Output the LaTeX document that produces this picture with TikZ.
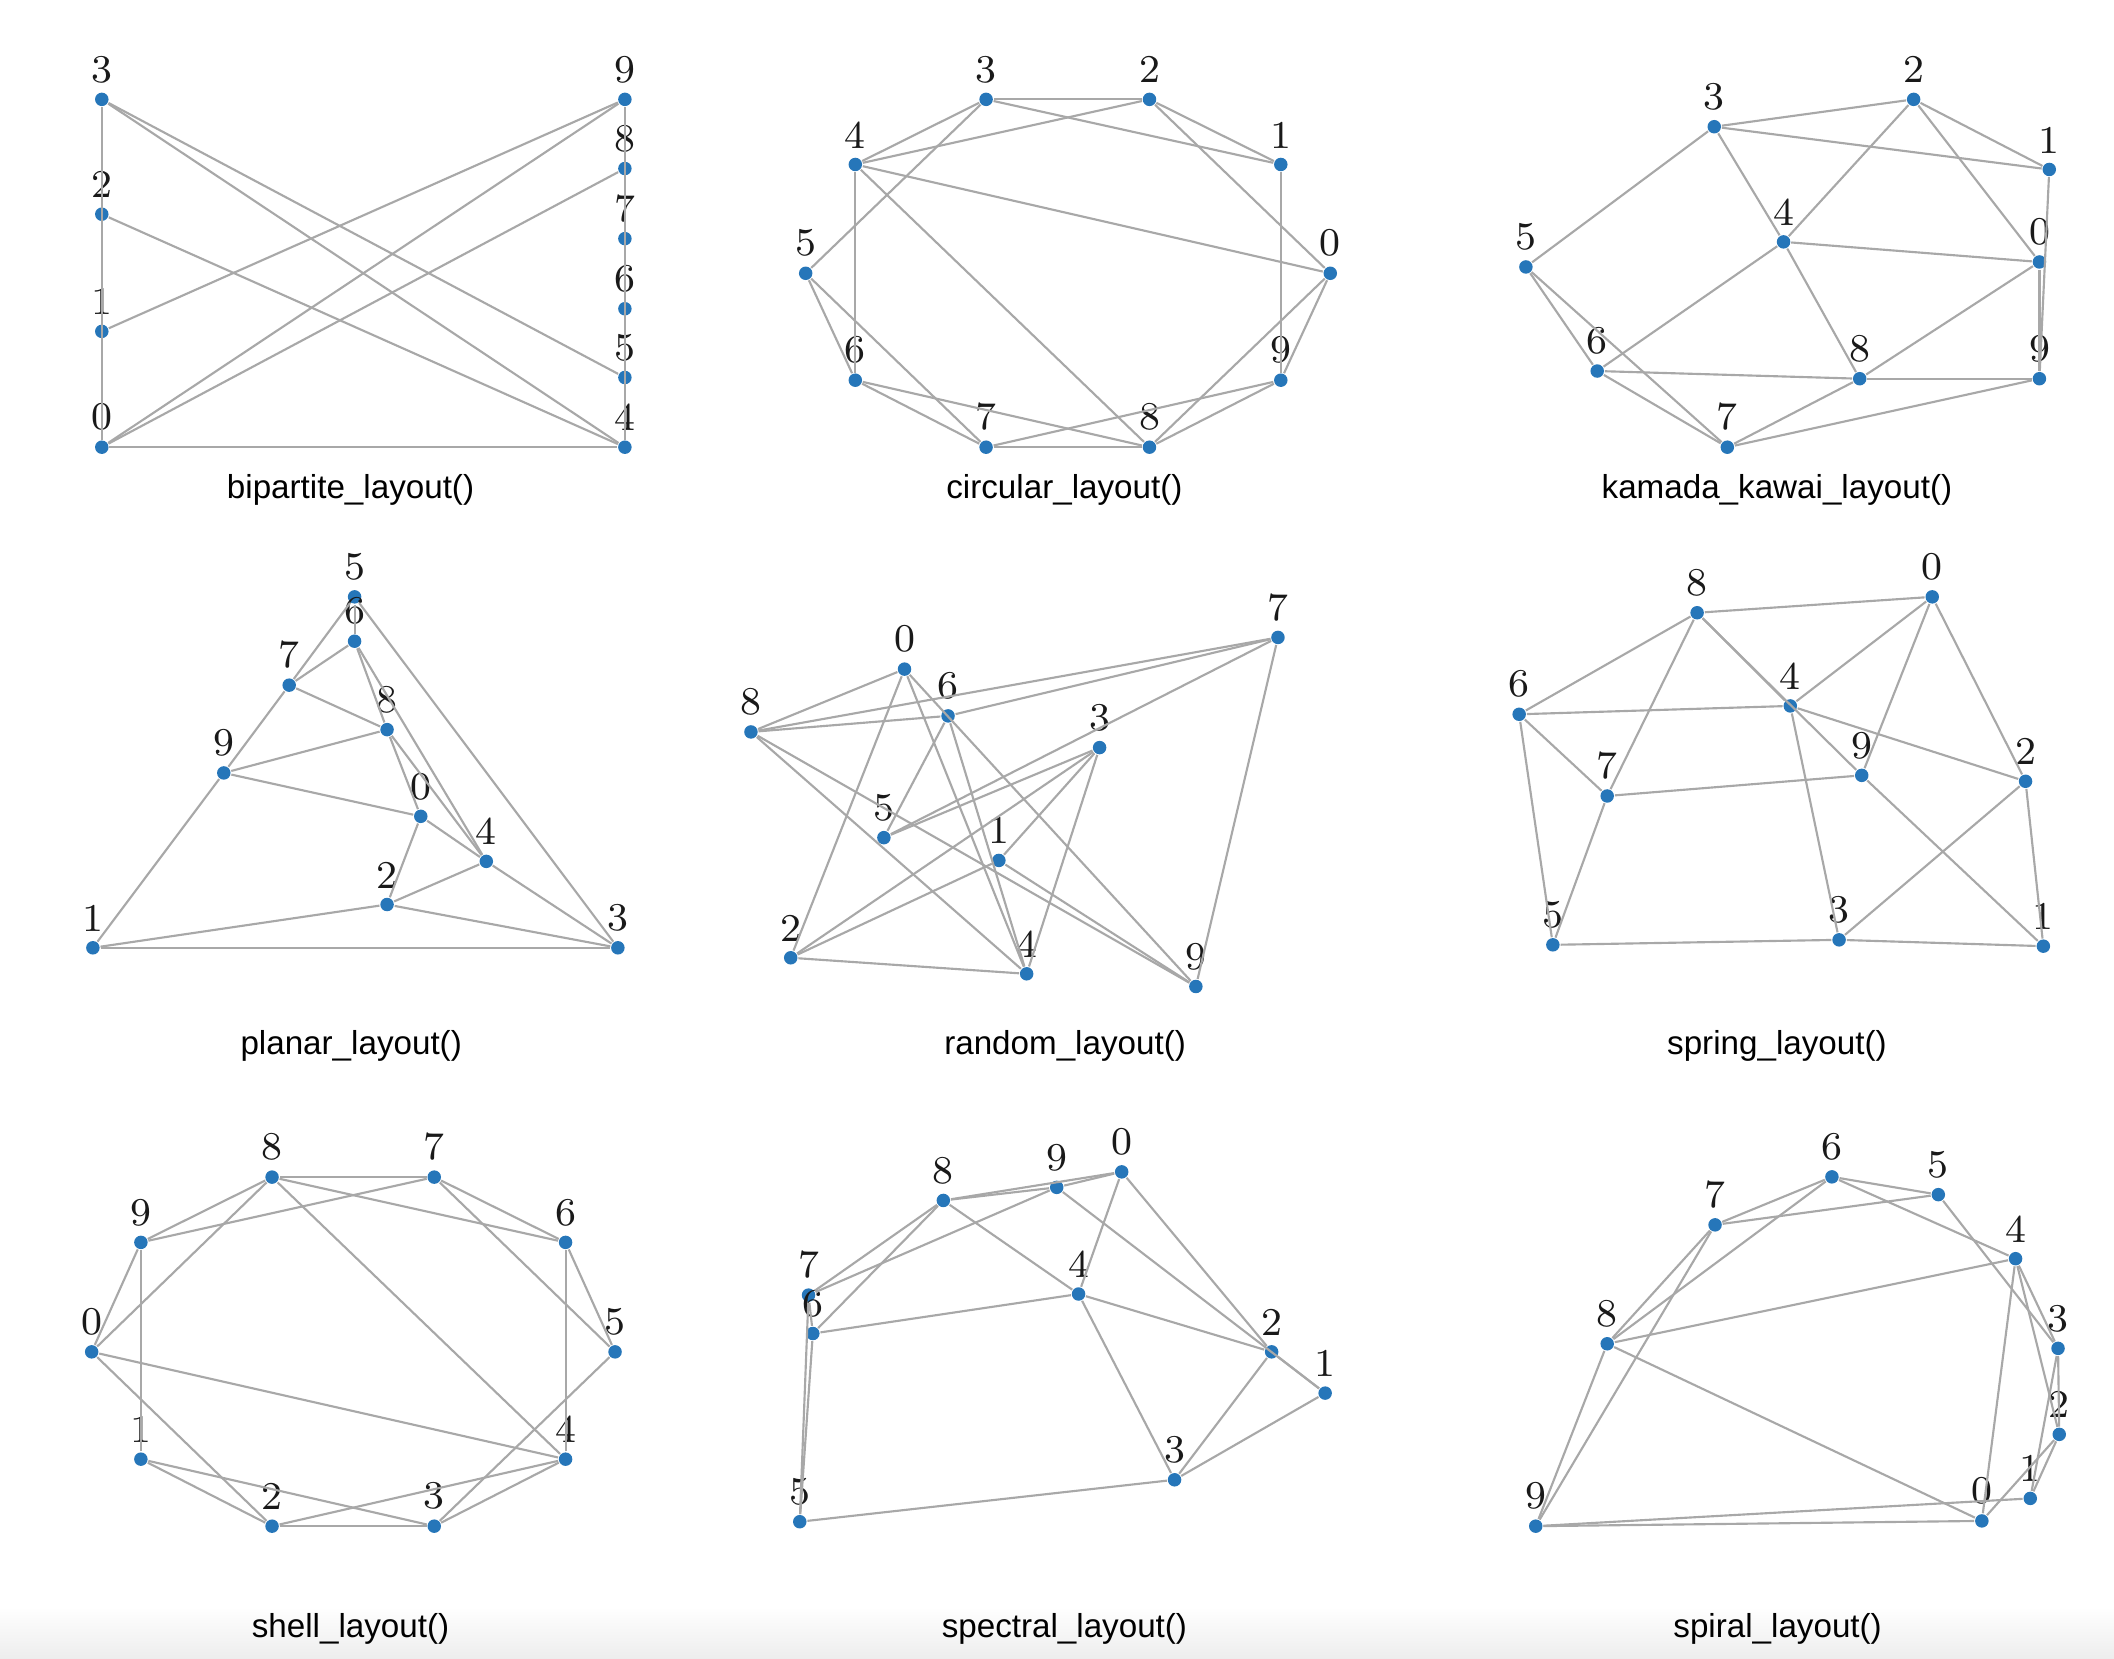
\documentclass[tikz,border=0pt]{standalone}
\usepackage{fontspec}
\newfontfamily\capfont{Liberation Sans}
\definecolor{dotblue}{RGB}{38,118,185}
\definecolor{linkgray}{RGB}{168,168,168}
\newcommand\gedges{0/2,0/4,0/8,0/9,1/2,1/3,1/9,2/3,2/4,3/4,3/5,4/6,4/8,5/6,5/7,6/7,6/8,7/8,7/9,8/9}
\tikzset{
  vtx/.style={circle,fill=dotblue,inner sep=0pt,minimum size=0.1cm,label={[vlab]above:#1}},
  vlab/.style={inner sep=0pt,text=black!90,font=\fontsize{8.3}{9}\selectfont},
  link/.style={draw=linkgray,line width=0.45pt},
  lcap/.style={inner sep=0pt,font=\capfont\fontsize{7}{8}\selectfont}
}
\begin{document}
\begin{tikzpicture}[x=0.01cm,y=-0.01cm,label distance=0.058cm]
  \useasboundingbox (0,0) rectangle (1568,1230);
  \shade[top color=white,bottom color=black!7] (0,1192) rectangle (1568,1230);
  % bipartite
  \foreach \n/\x/\y in {3/75.5/73.7,2/75.5/158.9,1/75.5/245.8,0/75.5/331.7,9/463.5/73.7,
      8/463.5/125,7/463.5/177,6/463.5/229,5/463.5/280,4/463.5/331.7}
    \node[vtx=\n] (bip\n) at (\x,\y) {};
  \foreach \a/\b in \gedges \draw[link] (bip\a) -- (bip\b);
  \node[lcap] (tbip) at (260,363.5) {bipartite\_layout()};
  % circular
  \foreach \n/\x/\y in {3/731.4/73.7,2/852.6/73.7,4/634.4/122,1/950/122,5/597.6/202.7,
      0/986.7/202.7,6/634.4/282,9/950/282,7/731.4/331.7,8/852.6/331.7}
    \node[vtx=\n] (cir\n) at (\x,\y) {};
  \foreach \a/\b in \gedges \draw[link] (cir\a) -- (cir\b);
  \node[lcap] (tcir) at (789.5,363.5) {circular\_layout()};
  % kamada kawai
  \foreach \n/\x/\y in {2/1419.4/73.7,3/1271.5/94,1/1520/125.7,4/1322.9/179.4,0/1512.7/194.3,
      5/1131.8/198,6/1184.7/275.2,8/1379.4/280.9,9/1512.7/280.9,7/1281.2/331.7}
    \node[vtx=\n] (kk\n) at (\x,\y) {};
  \foreach \a/\b in \gedges \draw[link] (kk\a) -- (kk\b);
  \node[lcap] (tkk) at (1318,363.5) {kamada\_kawai\_layout()};
  % planar
  \foreach \n/\x/\y in {5/263/442.7,6/263/475.6,7/214.5/508.2,8/287.1/541.2,9/166/573.3,
      0/312.1/605.5,4/360.7/638.9,2/287.1/670.9,1/68.9/703,3/458.3/703}
    \node[vtx=\n] (pla\n) at (\x,\y) {};
  \foreach \a/\b in \gedges \draw[link] (pla\a) -- (pla\b);
  \node[lcap] (tpla) at (260.5,776) {planar\_layout()};
  % random
  \foreach \n/\x/\y in {7/947.9/472.8,0/670.9/496.3,6/703.2/531,8/557/542.9,3/815.6/554.5,
      5/655.6/621.3,1/740.9/638.2,2/586.5/710.4,4/761.5/722.3,9/887/731.7}
    \node[vtx=\n] (rnd\n) at (\x,\y) {};
  \foreach \a/\b in \gedges \draw[link] (rnd\a) -- (rnd\b);
  \node[lcap] (trnd) at (790,776) {random\_layout()};
  % spring
  \foreach \n/\x/\y in {0/1433.2/442.7,8/1258.8/454.5,6/1126.8/529.8,4/1327.9/523.6,9/1380.9/575.1,
      2/1502.4/579.5,7/1192.1/590.4,5/1151.8/700.8,3/1364.1/697.1,1/1515.6/701.8}
    \node[vtx=\n] (spr\n) at (\x,\y) {};
  \foreach \a/\b in \gedges \draw[link] (spr\a) -- (spr\b);
  \node[lcap] (tspr) at (1318,776) {spring\_layout()};
  % shell
  \foreach \n/\x/\y in {8/201.8/873.1,7/322.1/873.1,9/104.5/921.5,6/419.5/921.5,0/68/1002.7,
      5/456.2/1002.7,1/104.5/1082.3,4/419.5/1082.3,2/201.8/1132,3/322.1/1132}
    \node[vtx=\n] (she\n) at (\x,\y) {};
  \foreach \a/\b in \gedges \draw[link] (she\a) -- (she\b);
  \node[lcap] (tshe) at (260,1208.5) {shell\_layout()};
  % spectral
  \foreach \n/\x/\y in {0/832/869.2,9/783.8/880.7,8/699.7/890.4,7/599.7/960.6,4/800/959.8,
      6/602.9/989.1,2/943.2/1002.7,1/982.9/1033.3,3/871.2/1097.6,5/593.2/1128.7}
    \node[vtx=\n] (spe\n) at (\x,\y) {};
  \foreach \a/\b in \gedges \draw[link] (spe\a) -- (spe\b);
  \node[lcap] (tspe) at (789.5,1208.5) {spectral\_layout()};
  % spiral
  \foreach \n/\x/\y in {6/1358.8/872.9,5/1437.7/886.1,7/1272.1/908.5,4/1495/933.6,8/1192.1/996.7,
      3/1526.5/1000.1,2/1527.4/1063.9,1/1505.9/1111.4,0/1470/1128.1,9/1139.1/1132}
    \node[vtx=\n] (spi\n) at (\x,\y) {};
  \foreach \a/\b in \gedges \draw[link] (spi\a) -- (spi\b);
  \node[lcap] (tspi) at (1318.5,1208.5) {spiral\_layout()};
\end{tikzpicture}
\end{document}
